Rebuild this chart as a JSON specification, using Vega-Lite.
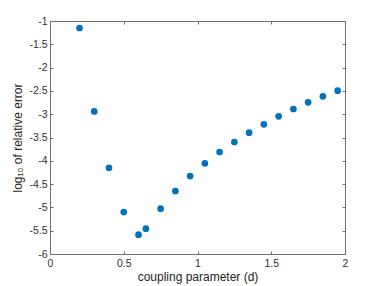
{
  "$schema": "https://vega.github.io/schema/vega-lite/v6.json",
  "width": 295,
  "height": 233,
  "padding": {"left": 50, "top": 21, "right": 37, "bottom": 32},
  "autosize": {"type": "none"},
  "background": "white",
  "config": {
    "view": {"stroke": null},
    "axis": {
      "labelFont": "Liberation Sans",
      "titleFont": "Liberation Sans",
      "labelFontSize": 10.5,
      "titleFontSize": 12,
      "labelColor": "#303030",
      "titleColor": "#262626",
      "domainColor": "#707070",
      "tickColor": "#707070",
      "domainWidth": 1,
      "tickWidth": 1,
      "tickSize": -3,
      "grid": false,
      "titleFontWeight": "normal",
      "labelExpr": "'' + datum.value"
    }
  },
  "data": {
    "values": [
      {"d": 0.2, "e": -1.15},
      {"d": 0.3, "e": -2.94},
      {"d": 0.4, "e": -4.15},
      {"d": 0.5, "e": -5.10},
      {"d": 0.6, "e": -5.585},
      {"d": 0.65, "e": -5.456},
      {"d": 0.75, "e": -5.027},
      {"d": 0.85, "e": -4.648},
      {"d": 0.95, "e": -4.326},
      {"d": 1.05, "e": -4.054},
      {"d": 1.15, "e": -3.811},
      {"d": 1.25, "e": -3.597},
      {"d": 1.35, "e": -3.396},
      {"d": 1.45, "e": -3.217},
      {"d": 1.55, "e": -3.046},
      {"d": 1.65, "e": -2.888},
      {"d": 1.75, "e": -2.745},
      {"d": 1.85, "e": -2.617},
      {"d": 1.95, "e": -2.495}
    ]
  },
  "layer": [
    {
      "mark": {"type": "point", "filled": true, "opacity": 1, "size": 45, "color": "#0072BD"},
      "encoding": {
        "x": {
          "field": "d", "type": "quantitative",
          "scale": {"domain": [0, 2], "nice": false, "zero": false},
          "axis": {"values": [0, 0.5, 1, 1.5, 2], "title": "coupling parameter (d)", "labelPadding": 7, "titlePadding": 3, "labelFlush": false}
        },
        "y": {
          "field": "e", "type": "quantitative",
          "scale": {"domain": [-6, -1], "nice": false, "zero": false},
          "axis": {"values": [-6, -5.5, -5, -4.5, -4, -3.5, -3, -2.5, -2, -1.5, -1], "title": "log₁₀ of relative error", "labelPadding": 6, "titlePadding": 4, "labelFlush": false}
        }
      }
    },
    {
      "mark": {"type": "point", "opacity": 0},
      "encoding": {
        "x": {
          "field": "d", "type": "quantitative",
          "scale": {"domain": [0, 2], "nice": false, "zero": false},
          "axis": {"orient": "top", "values": [0, 0.5, 1, 1.5, 2], "labels": false, "title": null}
        },
        "y": {
          "field": "e", "type": "quantitative",
          "scale": {"domain": [-6, -1], "nice": false, "zero": false},
          "axis": {"orient": "right", "values": [-6, -5.5, -5, -4.5, -4, -3.5, -3, -2.5, -2, -1.5, -1], "labels": false, "title": null}
        }
      }
    }
  ],
  "resolve": {"axis": {"x": "independent", "y": "independent"}}
}
